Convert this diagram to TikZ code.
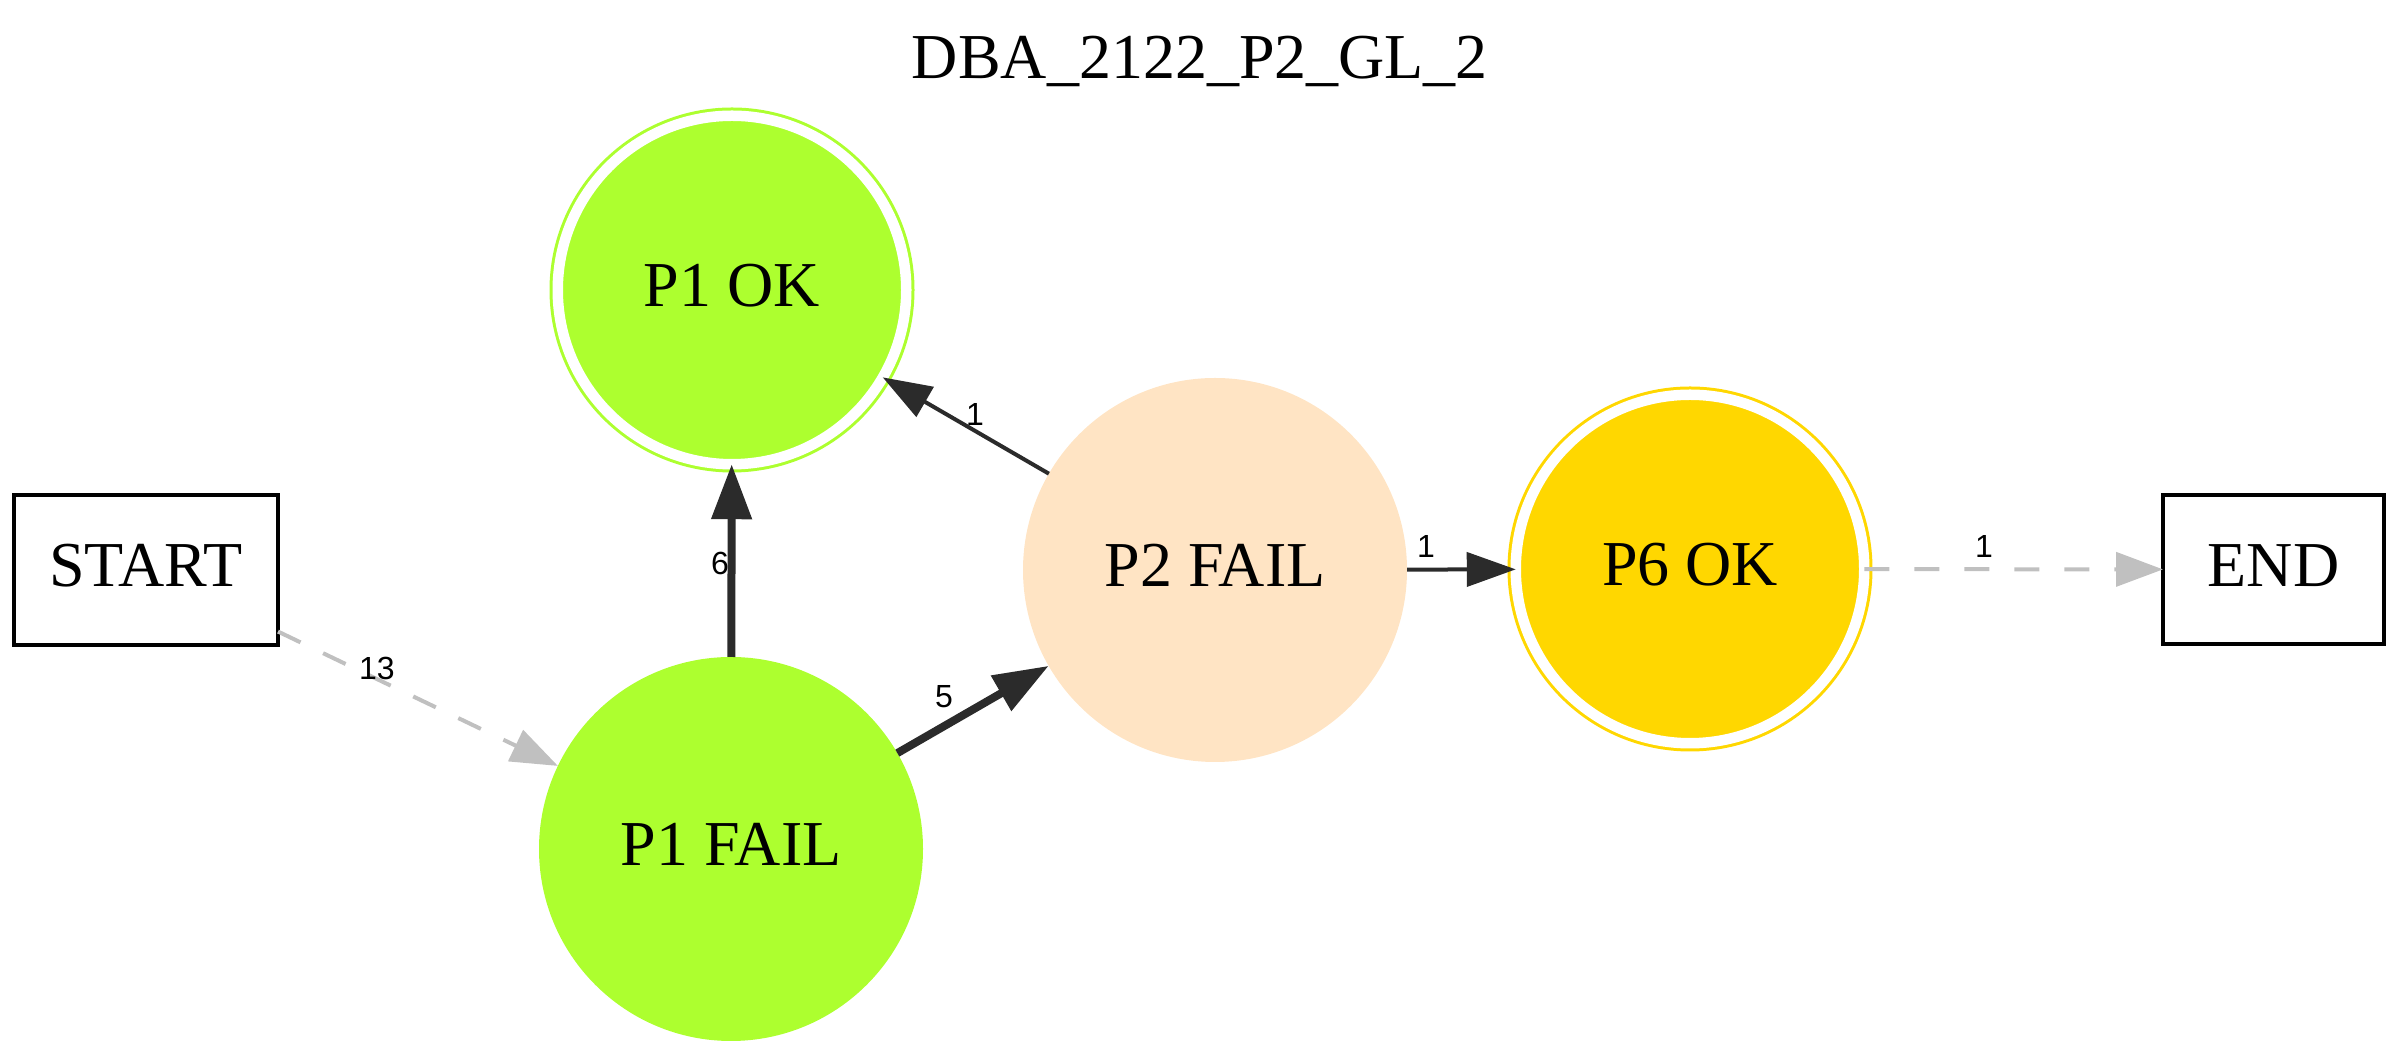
\documentclass[tikz,border=0pt]{standalone}
\usepackage{fontspec}
\setmainfont{Liberation Serif}
\newfontfamily\lblfont{Liberation Sans}
\usetikzlibrary{arrows.meta}
\definecolor{gvgreen}{HTML}{ADFF2F}
\definecolor{gvbisque}{HTML}{FFE4C4}
\definecolor{gvgold}{HTML}{FFD700}
\definecolor{edgedark}{HTML}{2B2B2B}
\definecolor{gvgray}{HTML}{C0C0C0}
\begin{document}
\begin{tikzpicture}[x=0.25pt,y=-0.25pt,
  every node/.style={inner sep=0pt, outer sep=0pt},
  mainfont/.style={font=\fontsize{16pt}{19pt}\selectfont},
  boxnode/.style={mainfont, rectangle, draw=black, line width=1pt, text height=11pt, text depth=2.5pt},
  okstate/.style={mainfont, circle, minimum size=87.125pt, line width=0.75pt, double=white, double distance=2.625pt, text height=11pt, text depth=2.5pt},
  failstate/.style={mainfont, circle, minimum size=96pt, text height=11pt, text depth=2.5pt},
  lbl/.style={font=\lblfont\fontsize{8pt}{9.6pt}\selectfont},
  thinedge/.style={draw=edgedark, line width=1pt, -{Triangle[length=12.25pt,width=8.5pt]}},
  thickedge/.style={draw=edgedark, line width=2pt, -{Triangle[length=13.75pt,width=9.75pt]}},
  grayedge/.style={draw=gvgray, line width=1pt, dash pattern=on 6.25pt off 6.25pt, -{Triangle[length=11.75pt,width=8.5pt]}}
]
\useasboundingbox (0,0) rectangle (2400,1056);

\node[mainfont, text depth=0pt] (title) at (1200,57) {DBA\_2122\_P2\_GL\_2};

\node[boxnode, minimum width=66pt, minimum height=37.5pt] (START) at (146,570) {START};
\node[boxnode, minimum width=55.25pt, minimum height=37.25pt] (END) at (2273.5,569.5) {END};
\node[okstate, fill=gvgreen, draw=gvgreen] (P1OK) at (732,290) {P1 OK};
\node[failstate, fill=gvgreen] (P1FAIL) at (731,849) {P1 FAIL};
\node[failstate, fill=gvbisque] (P2FAIL) at (1215,570) {P2 FAIL};
\node[okstate, fill=gvgold, draw=gvgold] (P6OK) at (1690,569) {P6 OK};

\draw[grayedge] (START.-25.2) -- (P1FAIL);
\draw[thickedge] (P1FAIL) -- (P1OK);
\draw[thickedge] (P1FAIL) -- (P2FAIL);
\draw[thinedge] (P2FAIL) -- (P1OK);
\draw[thinedge] (P2FAIL) -- (P6OK);
\draw[grayedge] (P6OK) -- (END);

\node[lbl] (l13) at (377,668) {13};
\node[lbl] (l6) at (720,563) {6};
\node[lbl] (l1a) at (975,415) {1};
\node[lbl] (l5) at (944,697) {5};
\node[lbl] (l1b) at (1426,547) {1};
\node[lbl] (l1c) at (1984,547) {1};
\end{tikzpicture}
\end{document}
